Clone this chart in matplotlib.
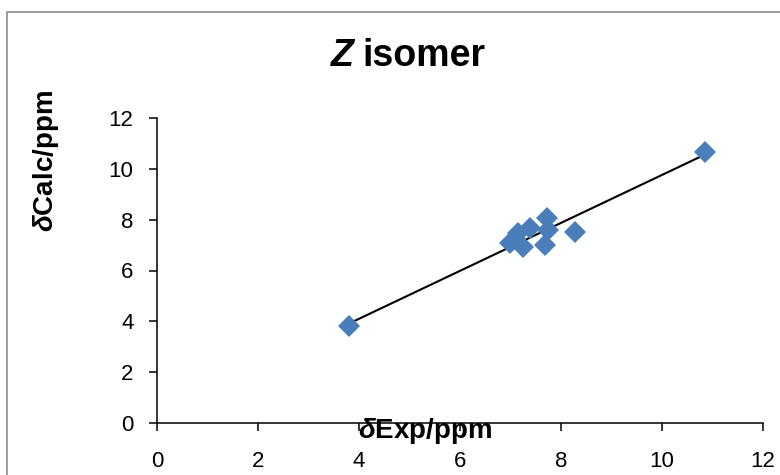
import numpy as np
from matplotlib import pyplot as plt
from matplotlib.patches import Rectangle

exp_ppm = [3.80, 6.99, 7.15, 7.25, 7.39, 7.72, 7.74, 7.68, 8.28, 10.85]
calc_ppm = [3.82, 7.09, 7.48, 6.93, 7.68, 8.07, 7.60, 7.01, 7.52, 10.67]
ticks = [0, 2, 4, 6, 8, 10, 12]

plt.rcParams['font.family'] = ['Liberation Sans', 'DejaVu Sans']
plt.rcParams['mathtext.fontset'] = 'custom'
plt.rcParams['mathtext.bfit'] = 'Liberation Sans:italic:bold'

fig = plt.figure(figsize=(7.8, 4.75), dpi=100)
fig.patches.append(Rectangle((7 / 780, -0.05), 1.2, 1 - 12 / 475 + 0.05,
                             transform=fig.transFigure, fill=False,
                             edgecolor='#8c8c8c', linewidth=1.2, clip_on=False))

ax = fig.add_axes([157 / 780, 52 / 475, 606 / 780, 305 / 475])

x = np.array(exp_ppm)
y = np.array(calc_ppm)
slope, icpt = np.polyfit(x, y, 1)
xs = np.array([x.min(), x.max()])
ax.plot(xs, slope * xs + icpt, color='black', linewidth=1.5, zorder=2)
ax.plot(x, y, linestyle='none', marker='D', markersize=11,
        color='#4a7ebb', markeredgewidth=0, zorder=3)

ax.set_xlim(0, 12)
ax.set_ylim(0, 12)
ax.set_xticks(ticks)
ax.set_yticks(ticks)
ax.spines['top'].set_visible(False)
ax.spines['right'].set_visible(False)
ax.spines['left'].set_linewidth(1.1)
ax.spines['bottom'].set_linewidth(1.1)
ax.tick_params(axis='x', direction='out', length=6, width=1.1, pad=14, labelsize=16)
ax.tick_params(axis='y', direction='out', length=6, width=1.1, pad=11, labelsize=16)

ax.set_xlabel(r'$\mathbfit{\delta}$Exp/ppm', fontsize=20, fontweight='bold')
ax.xaxis.set_label_coords(0.442, -0.025)
ax.xaxis.label.set_va('center')
ax.set_ylabel(r'$\mathbfit{\delta}$Calc/ppm', fontsize=20, fontweight='bold')
ax.yaxis.set_label_coords(-0.183, 0.86)
ax.yaxis.label.set_va('center')

fig.text(0.454, 1 - 56 / 475, 'Z', fontsize=27, fontweight='bold', fontstyle='italic',
         ha='right', va='center')
fig.text(0.465, 1 - 56 / 475, 'isomer', fontsize=27, fontweight='bold',
         ha='left', va='center')

fig.savefig('out.png', dpi=100)
